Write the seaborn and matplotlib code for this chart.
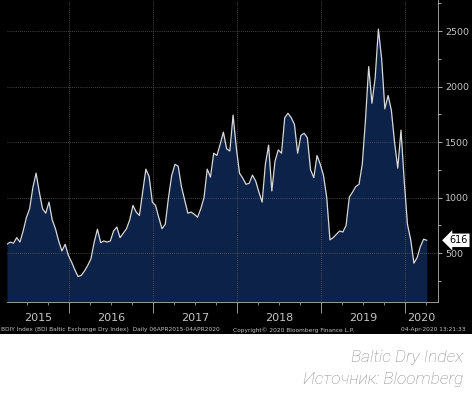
"""Baltic Dry Index, Bloomberg-style terminal chart."""

import matplotlib

matplotlib.use("Agg")

import matplotlib.dates as mdates
import matplotlib.pyplot as plt
import matplotlib.transforms as mtransforms
import numpy as np
import pandas as pd
import seaborn as sns
from matplotlib.patches import Rectangle
from matplotlib.ticker import MultipleLocator

START = "2015-04-06"
END = "2020-04-04"

# BDI readings, evenly spaced (~2 weeks) between START and END
BDI = [
    581, 600, 590, 640, 600, 700, 820, 900, 1090, 1221,
    1050, 900, 860, 960, 800, 720, 610, 520, 580, 480,
    420, 350, 290, 300, 340, 390, 450, 600, 716, 595,
    610, 600, 610, 700, 735, 640, 680, 720, 800, 930,
    870, 840, 1050, 1257, 1190, 960, 930, 820, 720, 760,
    1000, 1200, 1300, 1284, 1100, 980, 860, 870, 850, 824,
    900, 1000, 1257, 1185, 1400, 1380, 1480, 1590, 1440, 1420,
    1743, 1450, 1220, 1176, 1120, 1130, 1203, 1150, 1050, 960,
    1300, 1473, 1060, 1330, 1430, 1400, 1720, 1760, 1720, 1660,
    1400, 1560, 1580, 1540, 1250, 1180, 1380, 1300, 1200, 1000,
    620, 640, 670, 700, 690, 750, 1005, 1050, 1100, 1120,
    1300, 1700, 2180, 1850, 2080, 2518, 2250, 1800, 1920, 1790,
    1500, 1266, 1608, 1150, 760, 620, 410, 460, 560, 626,
    616,
]
YEARS = [2015, 2016, 2017, 2018, 2019, 2020]
Y_TICKS = [500, 1000, 1500, 2000, 2500]
LAST_VALUE = 616

FOOT_LEFT = "BDIY Index (BDI Baltic Exchange Dry Index)  Daily 06APR2015-04APR2020"
FOOT_MID = "Copyright\u00a9 2020 Bloomberg Finance L.P."
FOOT_RIGHT = "04-Apr-2020 13:21:33"
CAPTION_1 = "Baltic Dry Index"
CAPTION_2 = "Источник: Bloomberg"

FILL = "#0c2249"
LINE = "#d8d8d8"
TEXT = "#c4c4c4"
GRID = "#5c5c5c"

sns.set_theme(style="dark")
plt.rcParams["font.family"] = ["DejaVu Sans"]

df = pd.DataFrame({"date": pd.date_range(START, END, periods=len(BDI)), "bdi": BDI})
x_right = pd.Timestamp(END) + pd.Timedelta(days=48)

fig = plt.figure(figsize=(4.74, 3.99), dpi=100, facecolor="white")
fig.patches.append(Rectangle((0, 0.163), 0.996, 0.837, transform=fig.transFigure,
                             facecolor="black", edgecolor="none", zorder=-1))
ax = fig.add_axes([0.0148, 0.243, 0.909, 0.757])
ax.set_facecolor("black")

ax.fill_between(df["date"], df["bdi"], 0, color=FILL, linewidth=0, zorder=1)
sns.lineplot(data=df, x="date", y="bdi", color=LINE, linewidth=0.9, ax=ax, zorder=3)

ax.set_xlim(pd.Timestamp(START), x_right)
ax.set_ylim(60, 2780)
ax.set_xlabel("")
ax.set_ylabel("")

# right-hand value axis
ax.yaxis.tick_right()
ax.set_yticks(Y_TICKS)
ax.yaxis.set_minor_locator(MultipleLocator(250))
ax.tick_params(axis="y", which="both", colors=TEXT, labelsize=6.8, direction="out", pad=2)
ax.tick_params(axis="y", which="major", length=3, width=0.6)
ax.tick_params(axis="y", which="minor", length=2, width=0.6, right=True)

# time axis: long separators at year starts, short quarterly ticks
ax.xaxis.set_major_locator(mdates.YearLocator())
ax.xaxis.set_minor_locator(mdates.MonthLocator(bymonth=[1, 4, 7, 10]))
ax.xaxis.set_major_formatter(plt.NullFormatter())
ax.tick_params(axis="x", which="major", colors="#9a9a9a", length=8, width=0.7, bottom=True)
ax.tick_params(axis="x", which="minor", colors="#9a9a9a", length=2.5, width=0.6, bottom=True)

for side in ["left", "top"]:
    ax.spines[side].set_visible(False)
for side in ["right", "bottom"]:
    ax.spines[side].set_visible(True)
    ax.spines[side].set_color("#9a9a9a")
    ax.spines[side].set_linewidth(0.7)

ax.set_axisbelow(False)
ax.grid(True, which="major", axis="both", color=GRID, linestyle=(0, (1, 1.5)), linewidth=0.6)
ax.grid(False, which="minor")

trans = mtransforms.blended_transform_factory(ax.transData, ax.transAxes)
x0, x1 = pd.Timestamp(START), x_right
for year in YEARS:
    lo = max(pd.Timestamp(f"{year}-01-01"), x0)
    hi = min(pd.Timestamp(f"{year + 1}-01-01"), x1)
    mid = lo + (hi - lo) / 2
    ax.text(mdates.date2num(mid), -0.053, str(year), transform=trans,
            ha="center", va="center", fontsize=8, color=TEXT)

ax.text(1.048, LAST_VALUE, str(LAST_VALUE), transform=mtransforms.blended_transform_factory(ax.transAxes, ax.transData),
        ha="center", va="center", fontsize=7, color="black",
        bbox=dict(boxstyle="larrow,pad=0.18", facecolor="white", edgecolor="none"))

fig.text(0.002, 0.173, FOOT_LEFT, ha="left", va="center", fontsize=4.2, color=TEXT)
fig.text(0.62, 0.173, FOOT_MID, ha="center", va="center", fontsize=4.2, color=TEXT)
fig.text(0.982, 0.173, FOOT_RIGHT, ha="right", va="center", fontsize=4.2, color=TEXT)

fig.text(0.977, 0.105, CAPTION_1, ha="right", va="center", fontsize=12.5,
         style="italic", color="#8c8c8c", family=["Roboto", "DejaVu Sans"], fontweight="light")
fig.text(0.977, 0.048, CAPTION_2, ha="right", va="center", fontsize=12.5,
         style="italic", color="#8c8c8c", family=["Roboto", "DejaVu Sans"], fontweight="light")

fig.savefig("out.png", dpi=100, facecolor="white")
plt.close(fig)
